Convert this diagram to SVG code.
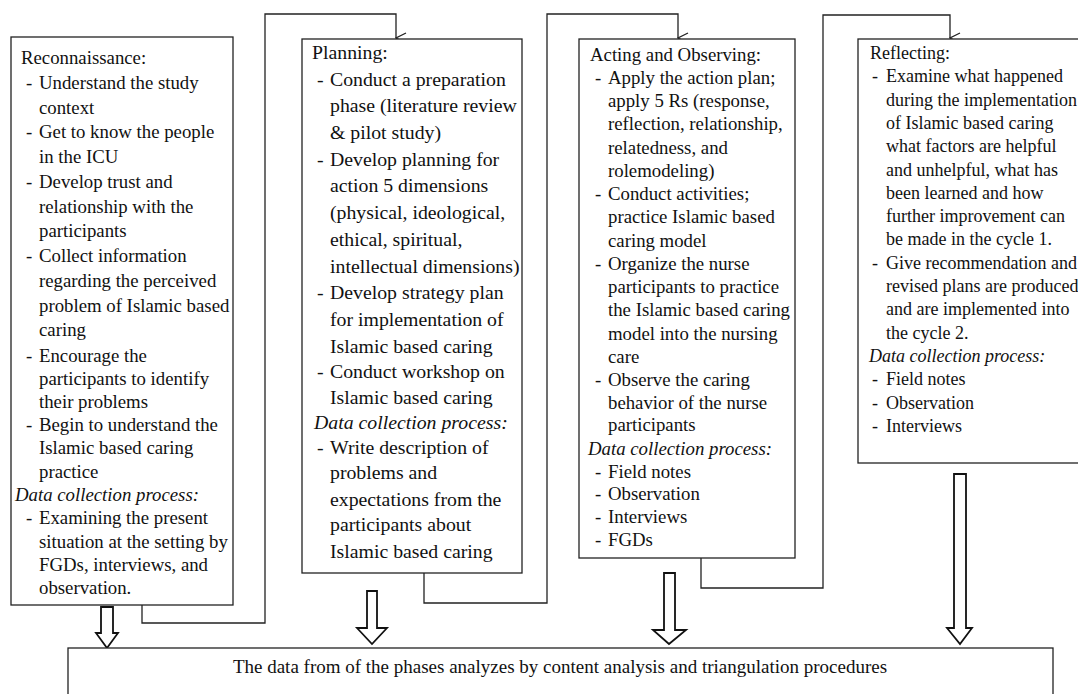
<svg xmlns="http://www.w3.org/2000/svg" width="1078" height="694" viewBox="0 0 1078 694">
<style>
.bg{fill:#fff}
.box{fill:#fff;stroke:#222;stroke-width:1.3}
.t{font-family:"Liberation Serif","Times New Roman",serif;font-size:18px;fill:#111}
.i{font-style:italic}
.f1 .t{font-size:18.8px}
.f2 .t{font-size:19.8px}
.f3 .t{font-size:18.8px}
.f4 .t{font-size:18px}
.f5 .t{font-size:19px}
.con{fill:none;stroke:#222;stroke-width:1.3}
.blk{fill:#fff;stroke:#111;stroke-width:1.8;stroke-linejoin:miter}
</style>
<defs>
<marker id="open" viewBox="0 0 12 12" refX="6" refY="11" markerWidth="12" markerHeight="12" markerUnits="userSpaceOnUse" orient="auto-start-reverse">
<path d="M1,1 L6,11 L11,1" fill="none" stroke="#222" stroke-width="1.3"/>
</marker>
</defs>
<rect class="bg" x="0" y="0" width="1078" height="694"/>

<g id="connectors">
<path class="con" d="M142,605 V623 H265 V14 H396 V38" marker-end="url(#open)"/>
<path class="con" d="M424,573 V603 H547 V14 H678 V38" marker-end="url(#open)"/>
<path class="con" d="M701,558 V588 H823 V15 H950 V38" marker-end="url(#open)"/>
<path class="blk" d="M101,607 H113 V633 H118 L107,648 L96,633 H101 Z"/>
<path class="blk" d="M367,591 H377 V628 H387 L372,644 L357,628 H367 Z"/>
<path class="blk" d="M664,573 H675 V630 H686 L669,644 L653,630 H664 Z"/>
<path class="blk" d="M954,474 H966 V628 H972 L960,644 L947,628 H954 Z"/>
</g>

<g id="reconnaissance" class="f1">
<rect class="box" x="11" y="37" width="222" height="568"/>
<text class="t" x="21" y="64">Reconnaissance:</text>
<text class="t" y="89"><tspan x="26">-</tspan><tspan x="39">Understand the study</tspan></text>
<text class="t" x="39" y="114">context</text>
<text class="t" y="138"><tspan x="26">-</tspan><tspan x="39">Get to know the people</tspan></text>
<text class="t" x="39" y="163">in the ICU</text>
<text class="t" y="188"><tspan x="26">-</tspan><tspan x="39">Develop trust and</tspan></text>
<text class="t" x="39" y="213">relationship with the</text>
<text class="t" x="39" y="237">participants</text>
<text class="t" y="262"><tspan x="26">-</tspan><tspan x="39">Collect information</tspan></text>
<text class="t" x="39" y="287">regarding the perceived</text>
<text class="t" x="39" y="312">problem of Islamic based</text>
<text class="t" x="39" y="336">caring</text>
<text class="t" y="362"><tspan x="26">-</tspan><tspan x="39">Encourage the</tspan></text>
<text class="t" x="39" y="385">participants to identify</text>
<text class="t" x="39" y="408">their problems</text>
<text class="t" y="431"><tspan x="26">-</tspan><tspan x="39">Begin to understand the</tspan></text>
<text class="t" x="39" y="454">Islamic based caring</text>
<text class="t" x="39" y="478">practice</text>
<text class="t i" x="15" y="501">Data collection process:</text>
<text class="t" y="524"><tspan x="26">-</tspan><tspan x="39">Examining the present</tspan></text>
<text class="t" x="39" y="548">situation at the setting by</text>
<text class="t" x="39" y="571">FGDs, interviews, and</text>
<text class="t" x="39" y="594">observation.</text>
</g>

<g id="planning" class="f2">
<rect class="box" x="302" y="39" width="220" height="534"/>
<text class="t" x="312" y="59">Planning:</text>
<text class="t" y="86"><tspan x="317">-</tspan><tspan x="330">Conduct a preparation</tspan></text>
<text class="t" x="330" y="112">phase (literature review</text>
<text class="t" x="330" y="139">&amp; pilot study)</text>
<text class="t" y="166"><tspan x="317">-</tspan><tspan x="330">Develop planning for</tspan></text>
<text class="t" x="330" y="192">action 5 dimensions</text>
<text class="t" x="330" y="219">(physical, ideological,</text>
<text class="t" x="330" y="246">ethical, spiritual,</text>
<text class="t" x="330" y="273">intellectual dimensions)</text>
<text class="t" y="299"><tspan x="317">-</tspan><tspan x="330">Develop strategy plan</tspan></text>
<text class="t" x="330" y="326">for implementation of</text>
<text class="t" x="330" y="353">Islamic based caring</text>
<text class="t" y="378"><tspan x="317">-</tspan><tspan x="330">Conduct workshop on</tspan></text>
<text class="t" x="330" y="404">Islamic based caring</text>
<text class="t i" x="314" y="429">Data collection process:</text>
<text class="t" y="454"><tspan x="317">-</tspan><tspan x="330">Write description of</tspan></text>
<text class="t" x="330" y="479">problems and</text>
<text class="t" x="330" y="506">expectations from the</text>
<text class="t" x="330" y="531">participants about</text>
<text class="t" x="330" y="558">Islamic based caring</text>
</g>

<g id="acting-observing" class="f3">
<rect class="box" x="579" y="39" width="216" height="519"/>
<text class="t" x="590" y="61">Acting and Observing:</text>
<text class="t" y="84"><tspan x="595">-</tspan><tspan x="608">Apply the action plan;</tspan></text>
<text class="t" x="608" y="107">apply 5 Rs (response,</text>
<text class="t" x="608" y="130">reflection, relationship,</text>
<text class="t" x="608" y="154">relatedness, and</text>
<text class="t" x="608" y="177">rolemodeling)</text>
<text class="t" y="200"><tspan x="595">-</tspan><tspan x="608">Conduct activities;</tspan></text>
<text class="t" x="608" y="223">practice Islamic based</text>
<text class="t" x="608" y="247">caring model</text>
<text class="t" y="270"><tspan x="595">-</tspan><tspan x="608">Organize the nurse</tspan></text>
<text class="t" x="608" y="293">participants to practice</text>
<text class="t" x="608" y="316">the Islamic based caring</text>
<text class="t" x="608" y="340">model into the nursing</text>
<text class="t" x="608" y="363">care</text>
<text class="t" y="386"><tspan x="595">-</tspan><tspan x="608">Observe the caring</tspan></text>
<text class="t" x="608" y="409">behavior of the nurse</text>
<text class="t" x="608" y="431">participants</text>
<text class="t i" x="588" y="455">Data collection process:</text>
<text class="t" y="478"><tspan x="595">-</tspan><tspan x="608">Field notes</tspan></text>
<text class="t" y="500"><tspan x="595">-</tspan><tspan x="608">Observation</tspan></text>
<text class="t" y="523"><tspan x="595">-</tspan><tspan x="608">Interviews</tspan></text>
<text class="t" y="546"><tspan x="595">-</tspan><tspan x="608">FGDs</tspan></text>
</g>

<g id="reflecting" class="f4">
<rect class="box" x="858" y="39" width="240" height="424"/>
<text class="t" x="870" y="59">Reflecting:</text>
<text class="t" y="82"><tspan x="872">-</tspan><tspan x="886">Examine what happened</tspan></text>
<text class="t" x="886" y="106">during the implementation</text>
<text class="t" x="886" y="129">of Islamic based caring</text>
<text class="t" x="886" y="152">what factors are helpful</text>
<text class="t" x="886" y="176">and unhelpful, what has</text>
<text class="t" x="886" y="199">been learned and how</text>
<text class="t" x="886" y="222">further improvement can</text>
<text class="t" x="886" y="245">be made in the cycle 1.</text>
<text class="t" y="269"><tspan x="872">-</tspan><tspan x="886">Give recommendation and</tspan></text>
<text class="t" x="886" y="292">revised plans are produced</text>
<text class="t" x="886" y="315">and are implemented into</text>
<text class="t" x="886" y="339">the cycle 2.</text>
<text class="t i" x="869" y="362">Data collection process:</text>
<text class="t" y="385"><tspan x="872">-</tspan><tspan x="886">Field notes</tspan></text>
<text class="t" y="409"><tspan x="872">-</tspan><tspan x="886">Observation</tspan></text>
<text class="t" y="432"><tspan x="872">-</tspan><tspan x="886">Interviews</tspan></text>
</g>

<g id="analysis" class="f5">
<rect class="box" x="68" y="648" width="985" height="60"/>
<text class="t" x="560" y="673" text-anchor="middle">The data from of the phases analyzes by content analysis and triangulation procedures</text>
</g>
</svg>
